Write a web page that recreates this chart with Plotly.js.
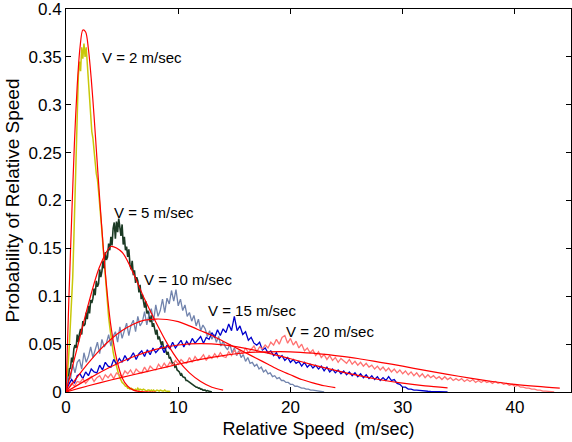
<!DOCTYPE html>
<html>
<head>
<meta charset="utf-8">
<script src="https://cdn.plot.ly/plotly-3.0.1.min.js"></script>
<style>
html,body{margin:0;padding:0;background:#fff;}
#chart{width:572px;height:442px;}
</style>
</head>
<body>
<div id="chart"></div>
<script>
// ---- measured histograms (bin spacing in m/sec) ----
const v2Step = 0.1;
const v2Hist = [0,0.012,0.03,0.05,0.07,0.09,0.12,0.16,0.21,0.25,0.29,0.33,0.345,0.335,0.36,0.348,0.364,0.35,0.36,0.342,
0.33,0.305,0.295,0.272,0.265,0.248,0.24,0.228,0.222,0.21,0.198,0.185,0.168,0.152,0.135,0.118,0.104,0.09,0.078,0.068,
0.058,0.05,0.042,0.036,0.031,0.026,0.022,0.018,0.015,0.012,0.01,0.009,0.007,0.006,0.006,0.004,0.004,0.003,0.004,0.003,
0.003,0.002,0.003,0.002,0.004,0.002,0.003,0.002,0.002,0.003,0.002,0.002,0.001,0.002,0.002,0.001,0.002,0.001,0.002,0.001,
0.001,0.002,0.001,0.001,0.002,0.001,0.001,0.001,0.002,0.001,0.001,0.001,0.001,0.0005];

const v5Step = 0.1;
const v5Hist = [0,0.01,0.012,0.024,0.025,0.036,0.031,0.045,0.049,0.046,0.06,0.052,0.061,0.066,0.06,0.074,0.069,0.071,0.083,0.076,
0.09,0.082,0.096,0.093,0.098,0.108,0.101,0.116,0.11,0.113,0.128,0.12,0.126,0.137,0.129,0.146,0.138,0.141,0.155,0.148,
0.162,0.153,0.171,0.177,0.16,0.178,0.167,0.181,0.172,0.163,0.175,0.154,0.162,0.148,0.152,0.141,0.149,0.133,0.128,0.137,
0.122,0.127,0.114,0.12,0.116,0.104,0.112,0.097,0.102,0.094,0.088,0.095,0.082,0.085,0.079,0.073,0.08,0.068,0.072,0.066,
0.06,0.065,0.055,0.058,0.054,0.049,0.053,0.045,0.047,0.043,0.039,0.042,0.035,0.036,0.033,0.029,0.031,0.026,0.027,0.023,
0.022,0.021,0.018,0.019,0.016,0.015,0.015,0.012,0.012,0.011,0.01,0.009,0.008,0.008,0.006,0.006,0.005,0.005,0.004,0.004,
0.003,0.003,0.002,0.002,0.002,0.001,0.0015,0.001,0.0005,0.0005,0];

const v10Step = 0.2;
const v10Hist = [0,0.016,0.014,0.029,0.02,0.031,0.034,0.024,0.041,0.031,0.037,0.047,0.036,0.043,0.052,0.04,0.055,0.047,0.051,0.06,
0.048,0.058,0.063,0.052,0.068,0.056,0.064,0.072,0.059,0.07,0.075,0.063,0.079,0.069,0.073,0.084,0.07,0.081,0.087,0.074,
0.091,0.079,0.085,0.097,0.083,0.098,0.092,0.106,0.095,0.107,0.09,0.097,0.085,0.091,0.079,0.083,0.074,0.08,0.069,0.076,
0.064,0.07,0.066,0.058,0.064,0.055,0.06,0.052,0.058,0.048,0.053,0.047,0.044,0.05,0.041,0.046,0.038,0.043,0.036,0.039,
0.032,0.036,0.03,0.031,0.027,0.029,0.024,0.026,0.021,0.023,0.019,0.02,0.016,0.017,0.014,0.015,0.012,0.012,0.01,0.01,
0.008,0.008,0.006,0.006,0.005,0.004,0.004,0.003,0.003,0.002,0.002,0.0015,0.001,0.0007,0.0004,0];

const v15Step = 0.25;
const v15Hist = [0,0.008,0.013,0.009,0.017,0.019,0.014,0.021,0.017,0.024,0.021,0.02,0.028,0.023,0.031,0.027,0.026,0.034,0.029,0.035,
0.031,0.038,0.033,0.036,0.041,0.034,0.04,0.043,0.037,0.044,0.039,0.046,0.041,0.044,0.048,0.041,0.049,0.045,0.052,0.046,
0.05,0.054,0.047,0.053,0.049,0.056,0.051,0.054,0.058,0.051,0.057,0.055,0.062,0.057,0.065,0.059,0.066,0.062,0.071,0.064,
0.079,0.064,0.069,0.06,0.063,0.054,0.057,0.051,0.049,0.052,0.044,0.046,0.041,0.043,0.038,0.041,0.035,0.038,0.033,0.036,
0.031,0.034,0.03,0.032,0.027,0.031,0.026,0.029,0.025,0.028,0.024,0.027,0.022,0.026,0.021,0.024,0.02,0.023,0.019,0.022,
0.018,0.021,0.017,0.02,0.016,0.019,0.015,0.018,0.014,0.017,0.013,0.016,0.012,0.015,0.012,0.016,0.012,0.013,0.009,0.008,
0.005,0.005,0.003,0.003,0.002,0.002,0.0015,0.001,0.001,0.0008,0.0006,0.0005,0.0004,0.0003,0.0002,0.0001,0];

const v20Step = 0.25;
const v20Hist = [0,0.005,0.009,0.006,0.011,0.01,0.014,0.009,0.013,0.016,0.011,0.015,0.017,0.012,0.018,0.015,0.019,0.014,0.02,0.018,
0.016,0.022,0.019,0.023,0.018,0.024,0.021,0.02,0.026,0.021,0.027,0.024,0.023,0.029,0.025,0.03,0.026,0.031,0.028,0.033,
0.029,0.034,0.031,0.03,0.036,0.031,0.037,0.033,0.035,0.039,0.033,0.038,0.035,0.04,0.036,0.041,0.037,0.036,0.042,0.038,
0.044,0.039,0.043,0.04,0.046,0.041,0.044,0.048,0.042,0.047,0.045,0.049,0.046,0.052,0.049,0.055,0.05,0.057,0.059,0.051,
0.056,0.049,0.053,0.046,0.05,0.043,0.046,0.041,0.044,0.038,0.042,0.036,0.039,0.034,0.038,0.033,0.036,0.031,0.035,0.032,
0.03,0.034,0.029,0.032,0.028,0.031,0.027,0.03,0.026,0.028,0.024,0.027,0.023,0.026,0.022,0.025,0.021,0.024,0.02,0.023,
0.019,0.022,0.018,0.021,0.017,0.02,0.016,0.019,0.015,0.018,0.015,0.017,0.014,0.016,0.013,0.016,0.013,0.015,0.012,0.014,
0.012,0.014,0.011,0.013,0.011,0.013,0.01,0.012,0.01,0.012,0.01,0.011,0.009,0.011,0.009,0.01,0.008,0.009,0.007,0.008,
0.006,0.007,0.005,0.005,0.004,0.004,0.003,0.003,0.002,0.002,0.001,0.001,0.0005,0.0003,0];

// ---- fitted distributions (red) ----
const fit2X = [0,0.25,0.5,0.75,1,1.25,1.5,1.75,2,2.25,2.5,2.75,3,3.25,3.5,3.75,4,4.5,5,5.5,6,6.5,7,8];
const fit2Y = [0,0.095,0.18,0.26,0.32,0.36,0.378,0.376,0.358,0.327,0.288,0.245,0.202,0.162,0.125,0.094,0.069,0.035,0.015,0.006,0.002,0.0007,0.0002,0];
const fit5X = [0,1,2,3,4,5,6,7,8,9,10,11,12,13,14];
const fit5Y = [0,0.046,0.092,0.131,0.152,0.146,0.124,0.097,0.073,0.051,0.033,0.02,0.011,0.005,0.002];
const fit10X = [0,1,2,3,4,5,6,7,8,9,10,11,12,13,14,15,16,17,18,19,20,21,22,23,24];
const fit10Y = [0,0.0155,0.0303,0.0437,0.0551,0.0641,0.0708,0.075,0.0762,0.0757,0.0735,0.069,0.064,0.059,0.053,0.047,0.041,0.035,0.029,0.023,0.018,0.013,0.0095,0.0065,0.0045];
const fit15X = [0,2,4,6,8,10,12,14,16,18,20,22,24,26,28,30,32,34];
const fit15Y = [0,0.0137,0.0263,0.0368,0.0445,0.0491,0.0505,0.0492,0.0456,0.0406,0.0347,0.0284,0.0226,0.0173,0.0128,0.0092,0.0063,0.0043];
const fit20X = [0,2,4,6,8,10,12,14,16,18,20,22,24,26,28,30,32,34,36,38,40,42,44];
const fit20Y = [0,0.0065,0.0125,0.018,0.0235,0.029,0.034,0.038,0.041,0.042,0.042,0.0405,0.038,0.035,0.031,0.027,0.0225,0.0185,0.0145,0.011,0.008,0.0058,0.004];

// ---- labels ----
const curveLabels = ['V = 2 m/sec','V = 5 m/sec','V = 10 m/sec','V = 15 m/sec','V = 20 m/sec'];
const labelX = [3.0, 4.1, 6.8, 12.5, 19.4];
const labelY = [0.349, 0.187, 0.117, 0.0856, 0.0627];
const xTicks = [0,10,20,30,40];
const yTicks = [0,0.05,0.1,0.15,0.2,0.25,0.3,0.35,0.4];
const yTickText = ['0','0.05','0.1','0.15','0.2','0.25','0.3','0.35','0.4'];

function binX(arr, step){ return arr.map((_, i) => +(i*step).toFixed(4)); }

const histColors = ['#c8c80a','#1b3a24','#7284ad','#0000cc','#ff7272'];
const histWidths = [1.5,1.6,1.3,1.3,1.3];
const hists = [[v2Hist,v2Step],[v5Hist,v5Step],[v10Hist,v10Step],[v15Hist,v15Step],[v20Hist,v20Step]];
const traces = [];
hists.forEach((h, k) => {
  traces.push({x: binX(h[0], h[1]), y: h[0], type:'scatter', mode:'lines',
    line:{color: histColors[k], width:histWidths[k]}, hoverinfo:'skip', showlegend:false});
});
[[fit2X,fit2Y],[fit5X,fit5Y],[fit10X,fit10Y],[fit15X,fit15Y],[fit20X,fit20Y]].forEach(f => {
  traces.push({x: f[0], y: f[1], type:'scatter', mode:'lines',
    line:{color:'#ff0000', width:1.2, shape:'spline', smoothing:0.8}, hoverinfo:'skip', showlegend:false});
});

const font = 'Liberation Sans, Arial, Helvetica, sans-serif';
const layout = {
  width:572, height:442,
  margin:{l:66, r:1, t:9, b:50, pad:0},
  paper_bgcolor:'#fff', plot_bgcolor:'#fff',
  font:{family:font, color:'#000'},
  showlegend:false,
  xaxis:{range:[0,45], tickvals:xTicks, ticktext:xTicks.map(String), ticks:'inside', ticklen:5,
    tickcolor:'#000', showline:true, linecolor:'#000', linewidth:1, mirror:'allticks',
    showgrid:false, zeroline:false, tickfont:{size:17, family:font}, ticklabeloverflow:'allow',
    title:{text:'Relative Speed  (m/sec)', font:{size:18, family:font}, standoff:5}},
  yaxis:{range:[0,0.4], tickvals:yTicks, ticktext:yTickText, ticks:'inside', ticklen:5,
    tickcolor:'#000', showline:true, linecolor:'#000', linewidth:1, mirror:'allticks',
    showgrid:false, zeroline:false, tickfont:{size:17, family:font}, ticklabeloverflow:'allow',
    title:{text:'Probability of Relative Speed', font:{size:19, family:font}, standoff:3}},
  annotations: curveLabels.map((t, i) => ({x:labelX[i], y:labelY[i], xref:'x', yref:'y', text:t,
    showarrow:false, xanchor:'left', yanchor:'middle', font:{size:15, family:font, color:'#000'}}))
};
Plotly.newPlot('chart', traces, layout, {displayModeBar:false, staticPlot:true});
</script>
</body>
</html>
